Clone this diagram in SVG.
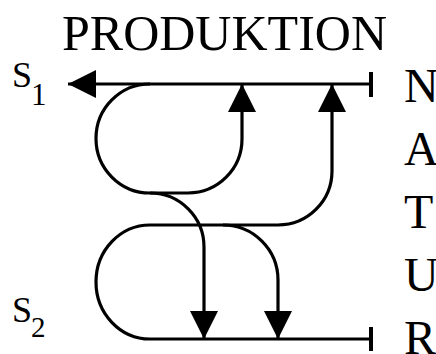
<svg xmlns="http://www.w3.org/2000/svg" width="436" height="354" viewBox="0 0 436 354">
  <style>
    .lbl { font-family: "Liberation Serif", "Times New Roman", serif; fill: #000; }
    .wire { fill: none; stroke: #000; stroke-width: 3.2; }
    .bar { stroke: #000; stroke-width: 4; }
  </style>
  <defs>
    <marker id="head" markerUnits="userSpaceOnUse" markerWidth="28" markerHeight="28" viewBox="0 0 26 26" refX="26" refY="13" orient="auto">
      <path d="M0,0 L26,13 L0,26 Z" fill="#000"/>
    </marker>
  </defs>

  <rect width="436" height="354" fill="#fff"/>

  <g id="title">
    <text class="lbl" x="62" y="50" font-size="50">PRODUKTION</text>
  </g>

  <g id="s1">
    <text class="lbl" x="12" y="87" font-size="36">S</text>
    <text class="lbl" x="31" y="105" font-size="31">1</text>
  </g>
  <g id="s2">
    <text class="lbl" x="12" y="322" font-size="36">S</text>
    <text class="lbl" x="31" y="337" font-size="29">2</text>
  </g>

  <g id="natur" class="lbl" font-size="48">
    <text x="404" y="102">N</text>
    <text x="404" y="165">A</text>
    <text x="404" y="228">T</text>
    <text x="404" y="291">U</text>
    <text x="404" y="354">R</text>
  </g>

  <g id="connectors">
    <!-- upper rail, flowing out to s1 -->
    <path class="wire" d="M371,84 H68" marker-end="url(#head)"/>
    <line class="bar" x1="371" y1="72" x2="371" y2="97"/>
    <!-- upper loop returning to the rail -->
    <path class="wire" d="M150,84 A54,54.5 0 0 0 150,193 H188 A54,54 0 0 0 242,139 V84" marker-end="url(#head)"/>
    <!-- crossing branch down to the lower rail -->
    <path class="wire" d="M150,193 A54,54 0 0 1 204,247 V339" marker-end="url(#head)"/>
    <!-- lower loop feeding the upper rail -->
    <path class="wire" d="M150,339 A54,57 0 0 1 150,225 H278 A54,54 0 0 0 332,171 V84" marker-end="url(#head)"/>
    <!-- second branch down to the lower rail -->
    <path class="wire" d="M223,225 A55,55 0 0 1 278,280 V339" marker-end="url(#head)"/>
    <!-- lower rail -->
    <path class="wire" d="M150,339 H371"/>
    <line class="bar" x1="371" y1="327" x2="371" y2="351"/>
  </g>
</svg>
